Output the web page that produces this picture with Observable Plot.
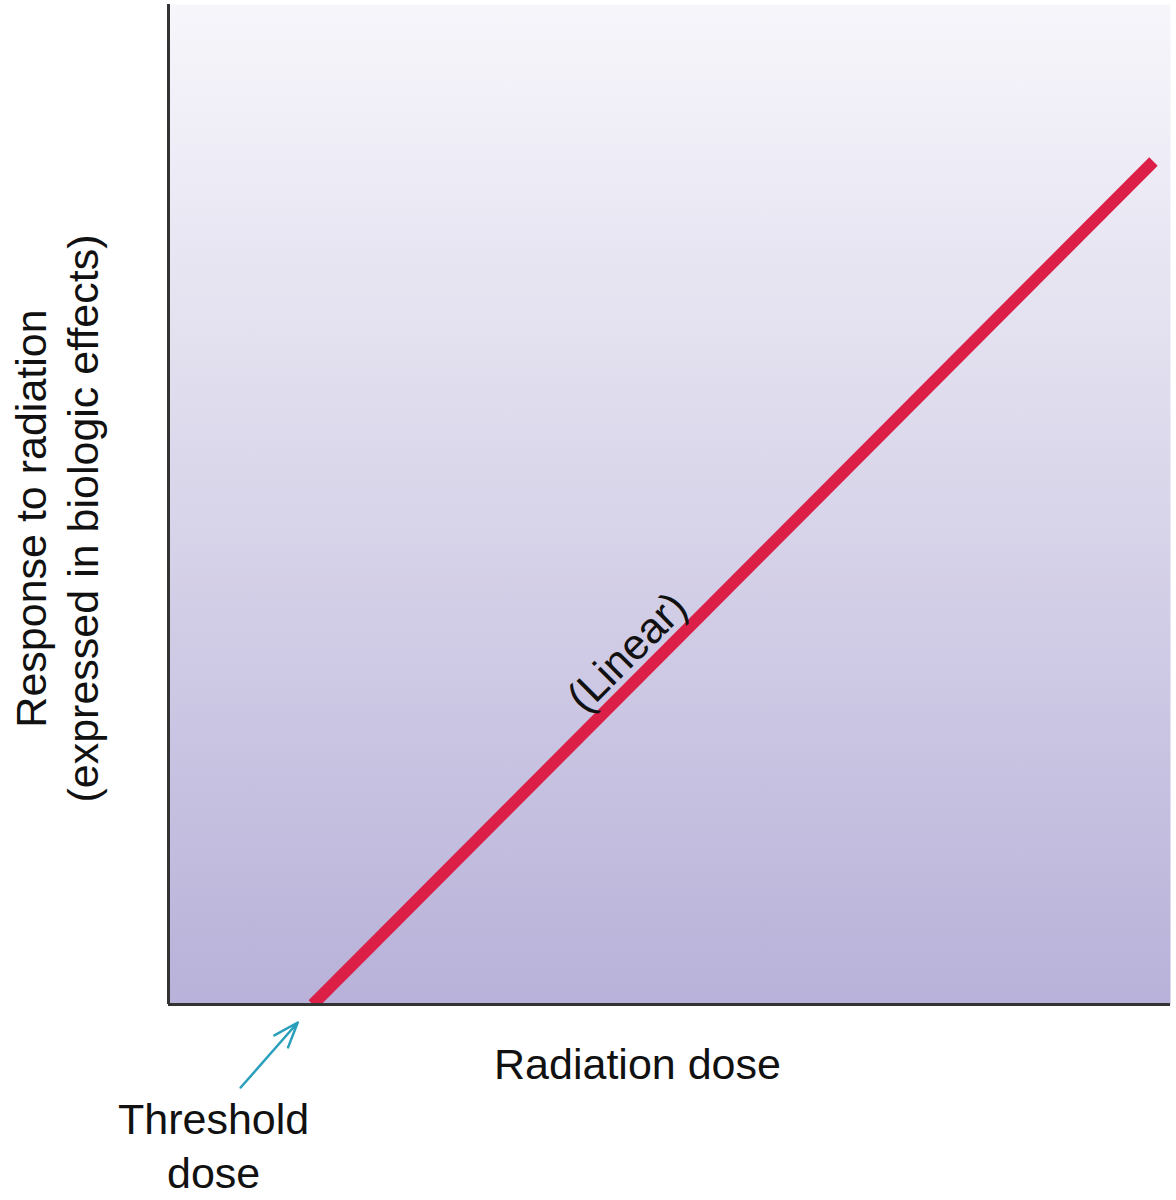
<!DOCTYPE html>
<html>
<head>
<meta charset="utf-8">
<script src="https://cdn.jsdelivr.net/npm/d3@7"></script>
<script src="https://cdn.jsdelivr.net/npm/@observablehq/plot@0.6"></script>
<style>
  html, body { margin: 0; padding: 0; background: #ffffff; }
  #chart svg { display: block; }
</style>
</head>
<body>
<div id="chart"></div>
<script>
// Data (arbitrary units 0–100)
const doses = [14.4, 98.3];
const responses = [0, 84.3];
const lineLabel = ["(Linear)"];
const labelDose = [45.8];
const labelResponse = [35.2];
const xTitle = "Radiation dose";
const yTitle = "Response to radiation\n(expressed in biologic effects)";
const thresholdText = ["Threshold\ndose"];
const thresholdX = [4.5];
const thresholdY = [-18.3];
const arrowFromX = [7.2];
const arrowFromY = [-8.3];
const arrowToX = [12.9];
const arrowToY = [-1.8];

const lineData = doses.map((d, i) => ({dose: d, response: responses[i]}));
const fontFamily = "'Liberation Sans', Arial, Helvetica, sans-serif";

const chart = Plot.plot({
  width: 1176,
  height: 1200,
  marginLeft: 168,
  marginRight: 6,
  marginTop: 4,
  marginBottom: 196,
  style: {fontFamily, background: "#ffffff", overflow: "visible"},
  x: {domain: [0, 100], axis: null},
  y: {domain: [0, 100], axis: null},
  marks: [
    Plot.frame({fill: "url(#bgGrad)", stroke: null}),
    Plot.line(lineData, {x: "dose", y: "response", stroke: "#dc1f47", strokeWidth: 12, strokeLinecap: "butt", clip: true}),
    Plot.ruleX([0], {stroke: "#333333", strokeWidth: 3}),
    Plot.ruleY([0], {stroke: "#333333", strokeWidth: 3}),
    Plot.text(lineLabel, {x: () => labelDose[0], y: () => labelResponse[0], text: d => d, rotate: -45, fontSize: 43, fill: "#111", textAnchor: "middle", lineAnchor: "middle"}),
    Plot.text([xTitle], {frameAnchor: "bottom", text: d => d, dx: -32, dy: 74, lineAnchor: "bottom", fontSize: 43, fill: "#111"}),
    Plot.text([yTitle], {frameAnchor: "left", text: d => d, rotate: -90, dx: -71, dy: 14, lineAnchor: "bottom", textAnchor: "middle", lineHeight: 1.2, fontSize: 43, fill: "#111"}),
    Plot.text(thresholdText, {x: () => thresholdX[0], y: () => thresholdY[0], text: d => d, lineAnchor: "bottom", textAnchor: "middle", lineHeight: 1.25, fontSize: 43, fill: "#111"}),
    Plot.arrow([0], {x1: i => arrowFromX[i], y1: i => arrowFromY[i], x2: i => arrowToX[i], y2: i => arrowToY[i], stroke: "#2a9fbb", strokeWidth: 2.5, headLength: 16, headAngle: 40})
  ]
});

const defs = d3.select(chart).insert("defs", ":first-child");
const grad = defs.append("linearGradient").attr("id", "bgGrad").attr("x1", 0).attr("y1", 0).attr("x2", 0).attr("y2", 1);
grad.append("stop").attr("offset", "0%").attr("stop-color", "#f7f6fb");
grad.append("stop").attr("offset", "50%").attr("stop-color", "#d9d5ea");
grad.append("stop").attr("offset", "100%").attr("stop-color", "#b8b1d9");

document.getElementById("chart").appendChild(chart);
</script>
</body>
</html>
